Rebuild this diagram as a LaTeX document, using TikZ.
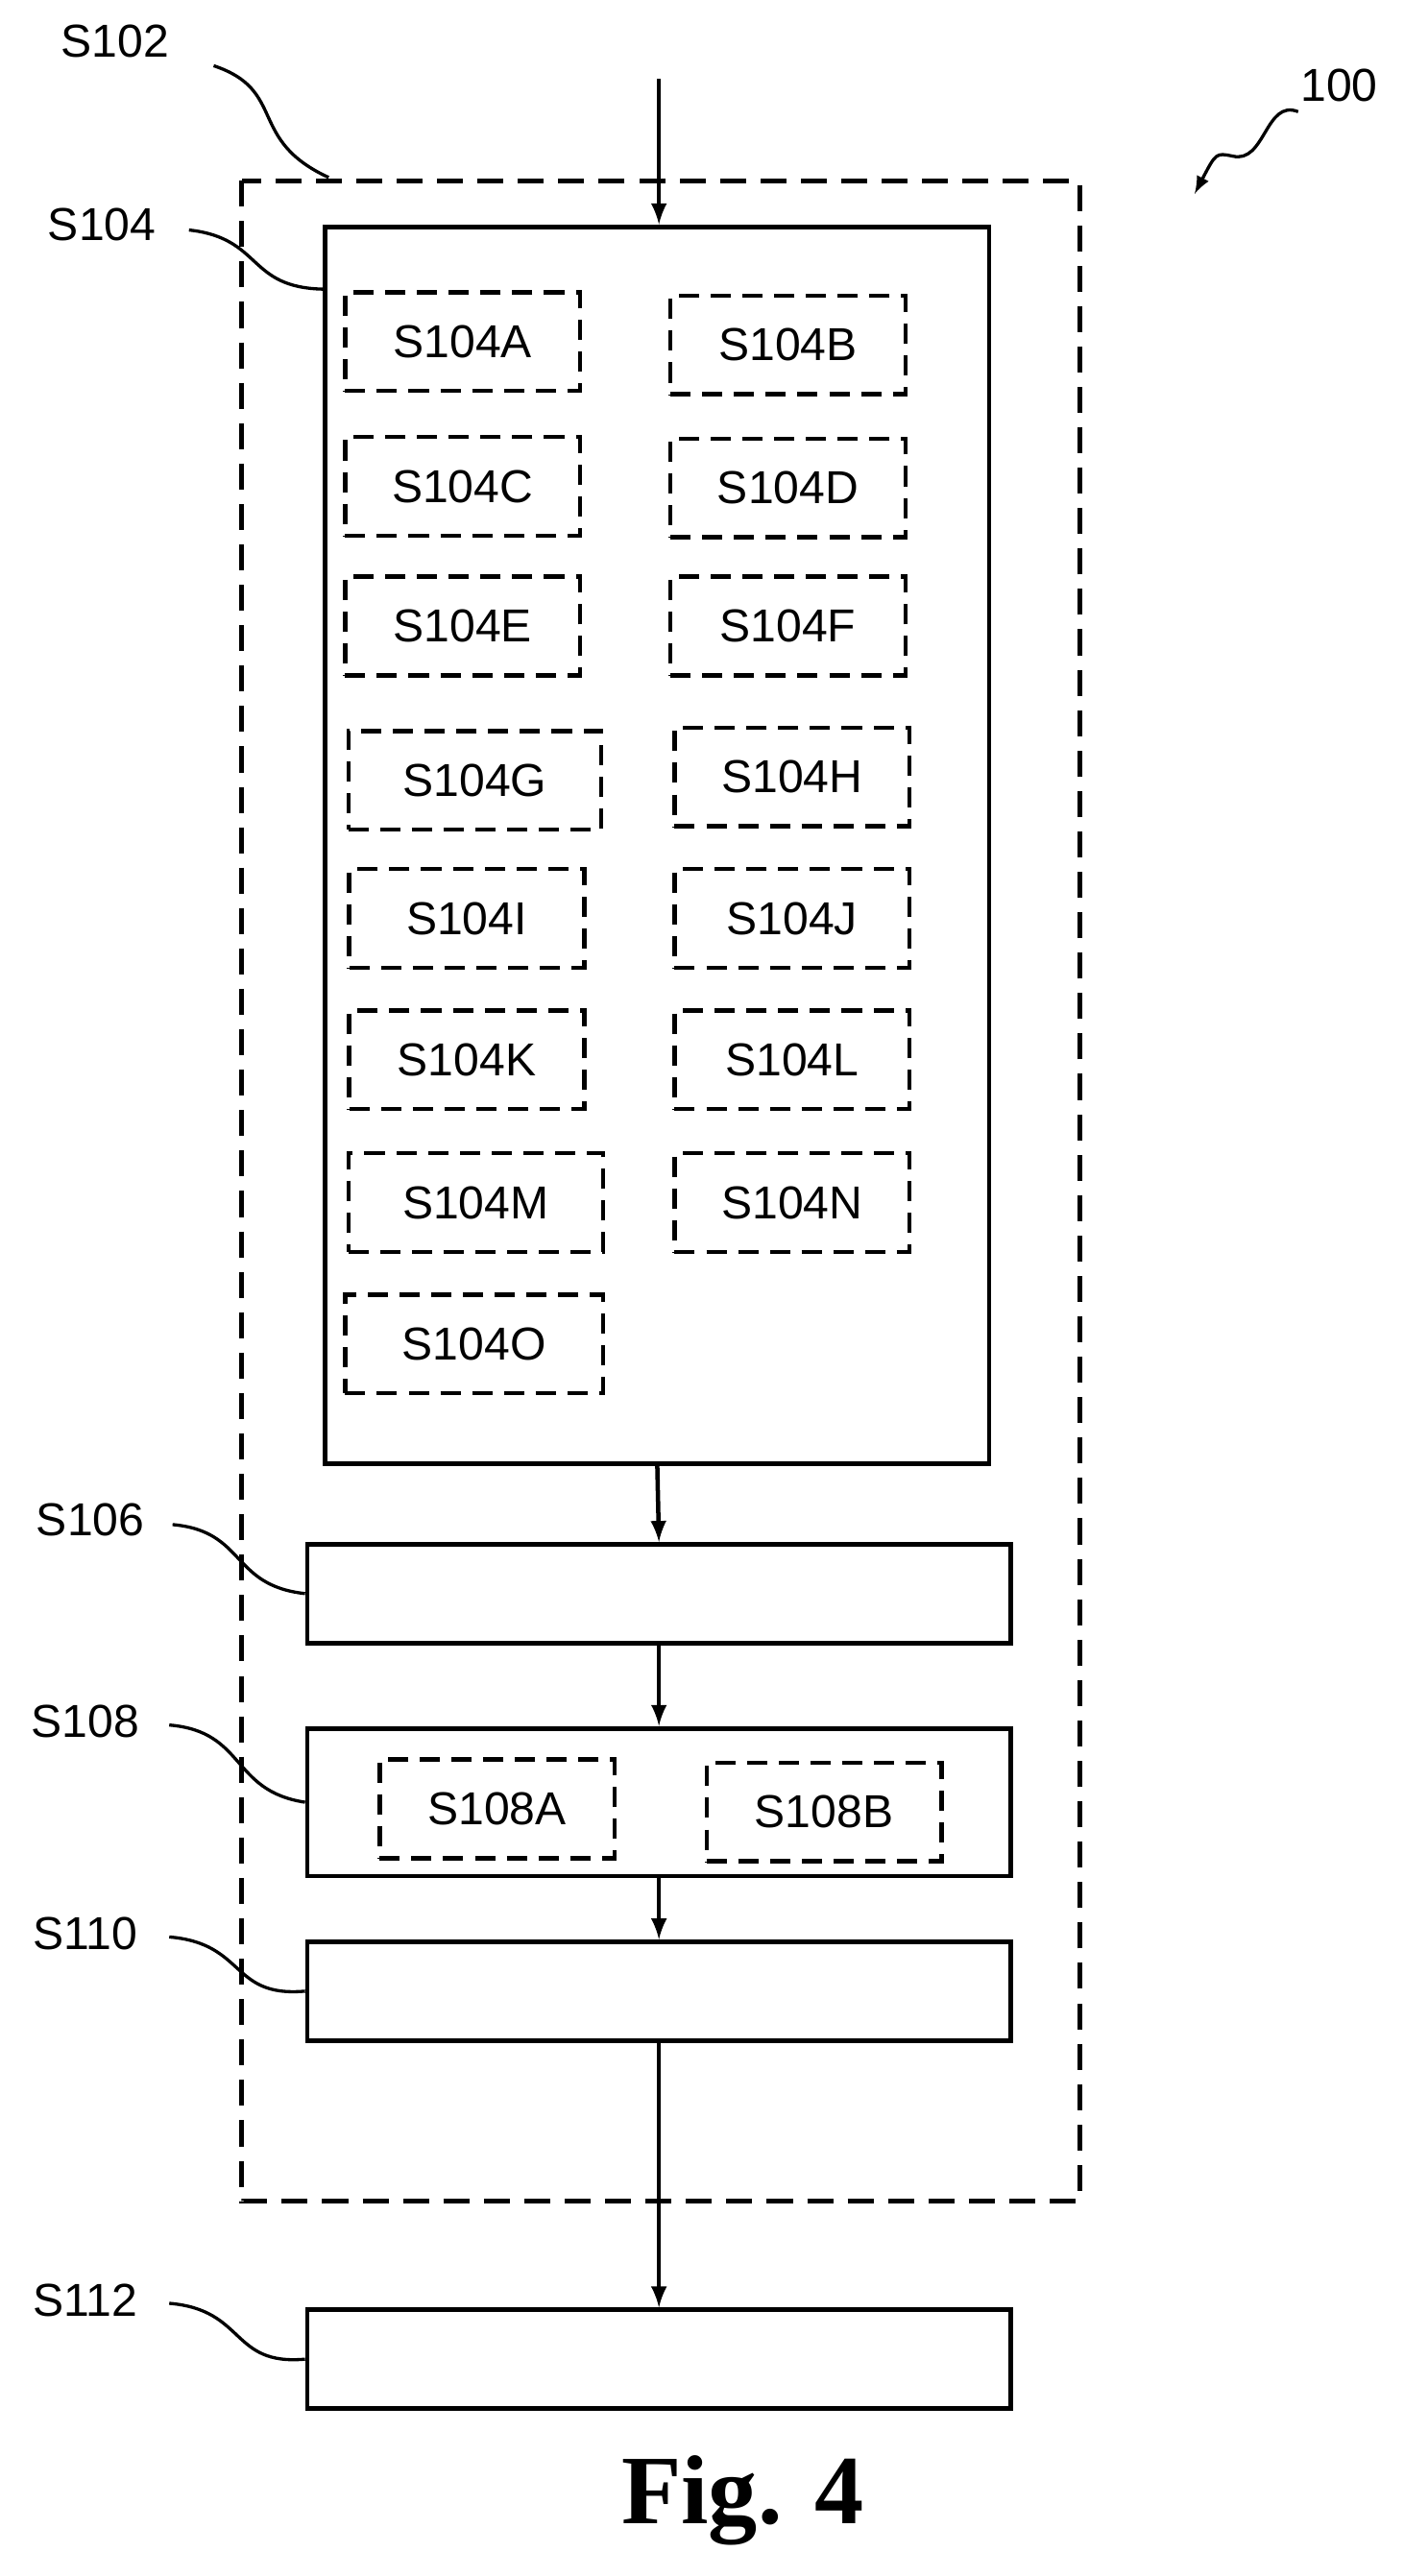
\documentclass[tikz,border=0pt]{standalone}
\usepackage{fontspec}
\setmainfont{Liberation Sans}
\newfontfamily\figfont{Liberation Serif}
\usetikzlibrary{positioning}
\tikzset{>=latex,
  stepbox/.style={draw,line width=1.6pt,inner sep=0pt},
  substep/.style={draw,dashed,line width=1.5pt,dash pattern=on 7pt off 4pt,minimum width=2.86cm,minimum height=1.2cm,inner sep=0pt,font=\fontsize{16}{19}\selectfont},
  lbl/.style={font=\fontsize{16}{19}\selectfont,inner sep=1pt},
  leader/.style={line width=1.1pt},
  flow/.style={->,line width=1.5pt,shorten >=0pt}}
\begin{document}
\begin{tikzpicture}[x=0.02cm,y=-0.02cm]
  \useasboundingbox (0,0) rectangle (854,1568);

  % OUTER DASHED FRAME
  \draw[line width=1.6pt,dash pattern=on 9pt off 5pt] (147,110) rectangle (657,1340);

  % STEPS
  \node[stepbox,minimum width=8.08cm,minimum height=15.06cm] (s104) at (400,514.5) {};
  \node[stepbox,minimum width=8.56cm,minimum height=1.2cm] (s106) at (401,970) {};
  \node[stepbox,minimum width=8.56cm,minimum height=1.8cm] (s108) at (401,1097) {};
  \node[stepbox,minimum width=8.56cm,minimum height=1.2cm] (s110) at (401,1212) {};
  \node[stepbox,minimum width=8.56cm,minimum height=1.2cm] (s112) at (401,1436) {};

  % SUB STEPS
  \node[substep] (a) at (281.5,208) {S104A};
  \node[substep] (b) at (479.5,210) {S104B};
  \node[substep] (c) at (281.5,296) {S104C};
  \node[substep] (d) at (479.5,297) {S104D};
  \node[substep] (e) at (281.5,381) {S104E};
  \node[substep] (f) at (479.5,381) {S104F};
  \node[substep,minimum width=3.08cm] (g) at (289,475) {S104G};
  \node[substep] (h) at (482,473) {S104H};
  \node[substep] (i) at (284,559) {S104I};
  \node[substep] (j) at (482,559) {S104J};
  \node[substep] (k) at (284,645) {S104K};
  \node[substep] (l) at (482,645) {S104L};
  \node[substep,minimum width=3.1cm] (m) at (289.5,732) {S104M};
  \node[substep] (n) at (482,732) {S104N};
  \node[substep,minimum width=3.14cm] (o) at (288.5,818) {S104O};
  \node[substep] (s108a) at (302.5,1101) {S108A};
  \node[substep] (s108b) at (501.5,1103) {S108B};

  % ARROWS
  \coordinate (in) at (401,48);
  \draw[flow] (in) -- (s104.north -| in);
  \draw[flow] (s104.south) -- (s106.north);
  \draw[flow] (s106.south) -- (s108.north);
  \draw[flow] (s108.south) -- (s110.north);
  \draw[flow] (s110.south) -- (s112.north);

  % LABELS
  \node[lbl] (l102) at (70,25) {S102};
  \node[lbl] (l104) at (62,137) {S104};
  \node[lbl] (l106) at (55,925) {S106};
  \node[lbl] (l108) at (52,1048) {S108};
  \node[lbl] (l110) at (52,1177) {S110};
  \node[lbl] (l112) at (52,1400) {S112};
  \node[lbl] (l100) at (815,52) {100};
  \coordinate (c102) at (200,108);
  \draw[leader] (130,40) .. controls (175,55) and (150,85) .. (c102);
  \draw[leader] (115,140) .. controls (160,145) and (150,175) .. (s104.north west |- 0,176);
  \draw[leader] (105,928) .. controls (150,932) and (140,965) .. (s106.west);
  \draw[leader] (103,1050) .. controls (150,1054) and (140,1090) .. (s108.west);
  \draw[leader] (103,1179) .. controls (150,1183) and (140,1216) .. (s110.west);
  \draw[leader] (103,1402) .. controls (150,1406) and (140,1440) .. (s112.west);
  \coordinate (t100) at (727,118);
  \draw[leader,->] (790,68) .. controls (770,60) and (770,100) .. (750,95) .. controls (740,93) .. (t100);

  % CAPTION
  \node[font=\figfont\bfseries\fontsize{34}{40}\selectfont] (cap) at (452,1522) {Fig. 4};
\end{tikzpicture}
\end{document}
